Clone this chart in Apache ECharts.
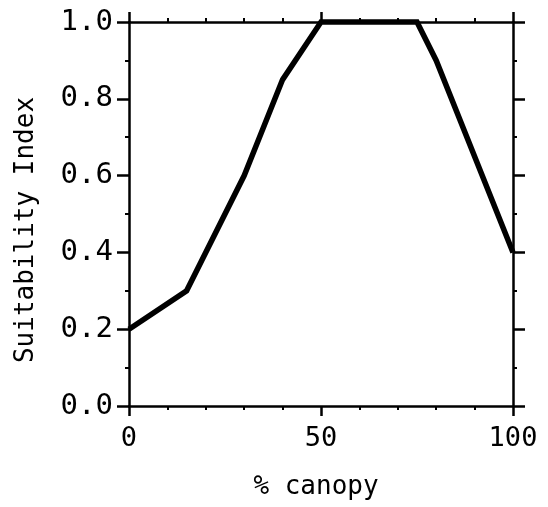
<!DOCTYPE html>
<html>
<head>
<meta charset="utf-8">
<script src="https://cdn.jsdelivr.net/npm/echarts@6/dist/echarts.min.js"></script>
<style>html,body{margin:0;padding:0;background:#fff}#c{width:548px;height:507px}</style>
</head>
<body>
<div id="c"></div>
<script>
var canopy = [0, 15, 30, 40, 50, 75, 80, 100];
var suitability = [0.2, 0.3, 0.6, 0.85, 1.0, 1.0, 0.9, 0.4];
var xTickValues = [0, 50, 100];
var yTickValues = [0.0, 0.2, 0.4, 0.6, 0.8, 1.0];

var FONT = 'DejaVu Sans Mono';
var chart = echarts.init(document.getElementById('c'), null, {renderer: 'canvas'});
var lineStyle = {color: '#000', width: 2.5};
function xAxisCfg(pos, show) {
  return {
    type: 'value', position: pos, min: 0, max: 100, interval: 50,
    axisLine: {show: true, onZero: false, lineStyle: lineStyle},
    axisTick: {show: true, inside: false, length: 10, lineStyle: lineStyle},
    minorTick: {show: true, splitNumber: 5, length: 4, lineStyle: {color: '#000', width: 2}},
    splitLine: {show: false},
    axisLabel: {show: show, color: '#000', fontFamily: FONT, fontSize: 27, margin: 19,
      formatter: function (v) { return xTickValues.indexOf(v) >= 0 ? String(v) : ''; }},
    name: show ? '% canopy' : '', nameLocation: 'middle', nameGap: 68,
    nameTextStyle: {color: '#000', fontFamily: FONT, fontSize: 26, padding: [0, 10, 0, 0]}
  };
}
function yAxisCfg(pos, show) {
  return {
    type: 'value', position: pos, min: 0, max: 1, interval: 0.2,
    axisLine: {show: true, onZero: false, lineStyle: lineStyle},
    axisTick: {show: true, inside: false, length: 12, lineStyle: lineStyle},
    minorTick: {show: true, splitNumber: 2, length: 4, lineStyle: {color: '#000', width: 2}},
    splitLine: {show: false},
    axisLabel: {show: show, color: '#000', fontFamily: FONT, fontSize: 29, margin: 16,
      formatter: function (v) { return yTickValues.indexOf(Math.round(v * 10) / 10) >= 0 ? v.toFixed(1) : ''; }},
    name: show ? 'Suitability Index' : '', nameLocation: 'middle', nameGap: 90, nameRotate: 90,
    nameTextStyle: {color: '#000', fontFamily: FONT, fontSize: 26, padding: [0, 32, 0, 0]}
  };
}
chart.setOption({
  animation: false,
  backgroundColor: '#fff',
  grid: {left: 129, right: 35, top: 22, bottom: 101, containLabel: false},
  xAxis: [xAxisCfg('bottom', true), xAxisCfg('top', false)],
  yAxis: [yAxisCfg('left', true), yAxisCfg('right', false)],
  series: [{
    type: 'line',
    data: canopy.map(function (x, i) { return [x, suitability[i]]; }),
    symbol: 'none',
    lineStyle: {color: '#000', width: 5.5, join: 'miter'},
    clip: false
  }]
});
</script>
</body>
</html>
